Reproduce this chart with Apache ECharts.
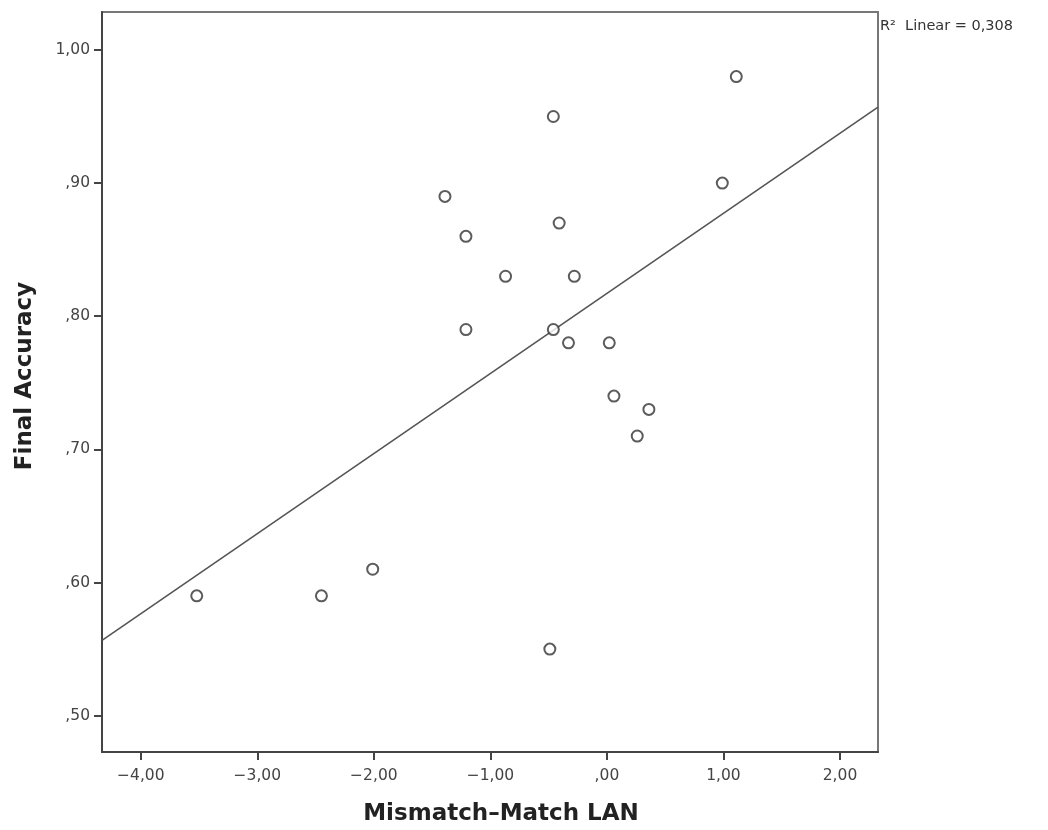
<!DOCTYPE html>
<html>
<head>
<meta charset="utf-8">
<script src="https://cdn.jsdelivr.net/npm/echarts@6/dist/echarts.min.js"></script>
<style>
  html, body { margin: 0; padding: 0; background: #fff; }
  #chart { width: 1048px; height: 830px; }
</style>
</head>
<body>
<div id="chart"></div>
<script>
// data
const mismatchLan = [-3.52, -2.45, -2.01, -0.49, -1.39, -1.21, -0.87, -1.21, -0.46, -0.41,
  -0.28, -0.46, -0.33, 0.02, 0.06, 0.36, 0.26, 0.99, 1.11]
const finalAccuracy = [0.59, 0.59, 0.61, 0.55, 0.89, 0.86, 0.83, 0.79, 0.95, 0.87,
  0.83, 0.79, 0.78, 0.78, 0.74, 0.73, 0.71, 0.90, 0.98]

// fit line end points (linear fit, R2 = 0.308)
const fitX = [-4.333, 2.326]
const fitY = [0.5565, 0.957]

const xTicks = [-4, -3, -2, -1, 0, 1, 2]
const yTicks = [0.5, 0.6, 0.7, 0.8, 0.9, 1.0]

// spss style: comma decimal, no leading zero
const fmt = v => {
  let s = Number(v).toFixed(2).replace('.', ',')
  s = s.replace(/^(-?)0,/, '$1,')
  return s.replace('-', '\u2212')
}

const font = 'DejaVu Sans'
const chart = echarts.init(document.getElementById('chart'))

const option = {
  animation: false,
  backgroundColor: '#fff',
  grid: {
    left: 102, top: 12, right: 170, bottom: 78,
    outerBoundsMode: 'none',
    containLabel: false,
    show: true,
    borderColor: '#777',
    borderWidth: 2
  },
  xAxis: {
    type: 'value',
    min: -4.333,
    max: 2.326,
    name: 'Mismatch\u2013Match LAN',
    nameLocation: 'middle',
    nameGap: 51,
    nameTextStyle: {
      fontFamily: font, fontSize: 23, fontWeight: 'bold', color: '#222',
      padding: [0, 0, 0, 22]
    },
    axisLine: { show: true, onZero: false, lineStyle: { color: '#444', width: 2 } },
    axisTick: { show: true, length: 8, customValues: xTicks, lineStyle: { color: '#444', width: 2 } },
    axisLabel: {
      customValues: xTicks, formatter: fmt, margin: 16,
      fontFamily: font, fontSize: 15.5, color: '#444'
    },
    splitLine: { show: false }
  },
  yAxis: {
    type: 'value',
    min: 0.4727,
    max: 1.0285,
    name: 'Final Accuracy',
    nameLocation: 'middle',
    nameGap: 65,
    nameTextStyle: {
      fontFamily: font, fontSize: 23, fontWeight: 'bold', color: '#222',
      padding: [0, 0, 0, 12]
    },
    axisLine: { show: true, onZero: false, lineStyle: { color: '#444', width: 2 } },
    axisTick: { show: true, length: 8, customValues: yTicks, lineStyle: { color: '#444', width: 2 } },
    axisLabel: {
      customValues: yTicks, formatter: fmt, margin: 12,
      fontFamily: font, fontSize: 15.5, color: '#444'
    },
    splitLine: { show: false }
  },
  series: [
    {
      type: 'line',
      data: fitX.map((x, i) => [x, fitY[i]]),
      symbol: 'none',
      lineStyle: { color: '#555', width: 1.6 },
      z: 2
    },
    {
      type: 'scatter',
      data: mismatchLan.map((x, i) => [x, finalAccuracy[i]]),
      symbol: 'circle',
      symbolSize: 11,
      itemStyle: { color: '#fff', borderColor: '#333', borderWidth: 2 },
      z: 3
    }
  ],
  graphic: [
    {
      type: 'text',
      left: 880,
      top: 19,
      style: {
        text: 'R\u00b2  Linear = 0,308',
        fontFamily: font,
        fontSize: 14.5,
        fill: '#333'
      }
    }
  ]
}

chart.setOption(option)
</script>
</body>
</html>
